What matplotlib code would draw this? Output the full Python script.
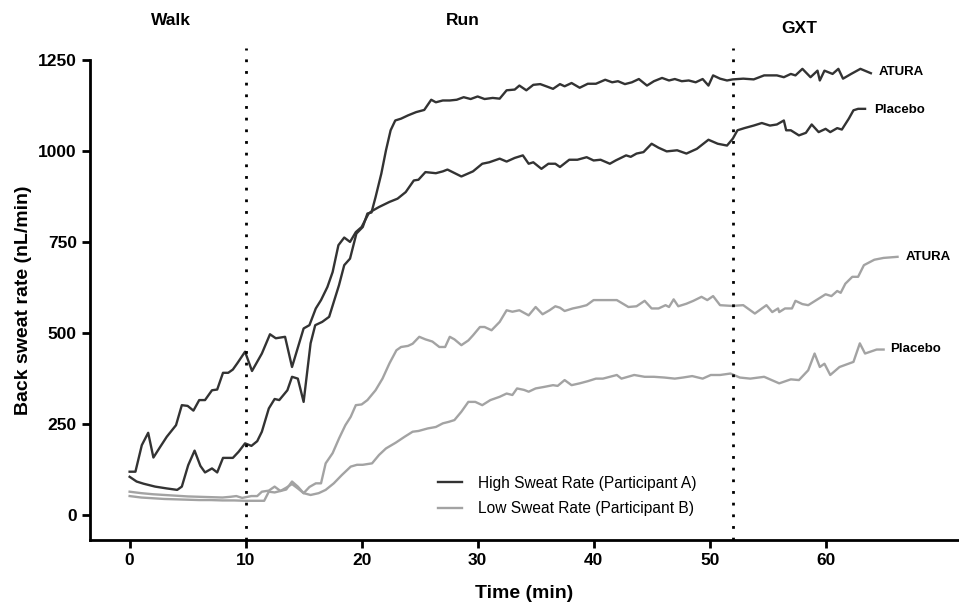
import numpy as np
import matplotlib
matplotlib.use("Agg")
import matplotlib.pyplot as plt

plt.rcParams['font.family'] = ['Liberation Sans', 'DejaVu Sans']

# High sweat rate (participant A) - placebo
hp_t = [0, 0.5, 1.05, 1.6, 2.05, 2.65, 3.2, 4.0, 4.5, 5.0, 5.5, 6.0, 6.5, 7.1, 7.55, 8.05, 8.5, 8.9,
        9.3, 9.95, 10.55, 11.4, 12.1, 12.6, 13.4, 14.0, 15.0, 15.5, 16.05, 16.5, 17.05, 17.5, 18.0,
        18.5, 19.0, 19.5, 20.0, 20.6, 21.0, 21.5, 22.4, 23.1, 23.8, 24.5, 24.9, 25.5, 26.4, 27.0,
        27.4, 28.6, 29.6, 30.4, 31.0, 31.9, 32.5, 33.2, 33.9, 34.4, 34.8, 35.5, 36.1, 36.7, 37.1,
        37.9, 38.6, 39.4, 40.0, 40.6, 41.4, 41.9, 42.8, 43.2, 43.7, 44.3, 45.0, 45.6, 46.3, 47.2,
        48.0, 48.9, 49.9, 50.7, 51.5, 52.0, 52.4, 53.0, 53.8, 54.5, 55.2, 55.8, 56.4, 56.6, 57.0,
        57.7, 58.3, 58.8, 59.4, 60.0, 60.4, 61.0, 61.4, 62.0, 62.4, 62.8, 63.4]
hp_v = [119, 119, 192, 226, 158, 188, 215, 247, 302, 300, 287, 316, 316, 343, 345, 391, 391, 400,
        418, 449, 396, 444, 497, 486, 490, 407, 513, 522, 568, 591, 627, 668, 742,
        763, 751, 778, 792, 829, 838, 847, 861, 870, 888, 920, 922, 943, 940, 945,
        950, 931, 945, 966, 970, 980, 972, 982, 989, 966, 970, 952, 966, 966, 957,
        977, 977, 984, 975, 977, 966, 975, 989, 985, 994, 998, 1021, 1010, 1000, 1003,
        994, 1007, 1032, 1021, 1016, 1035, 1058, 1064, 1071, 1078, 1071, 1074, 1085, 1058, 1058,
        1044, 1051, 1074, 1053, 1062, 1053, 1064, 1060, 1090, 1113, 1117, 1117]

# High sweat rate (participant A) - ATURA
ha_t = [0, 0.6, 1.2, 2.2, 3.2, 4.1, 4.5, 5.05, 5.6, 6.1, 6.5, 7.1, 7.55, 8.05, 8.9, 9.4, 9.95,
        10.5, 11.0, 11.4, 12.0, 12.5, 12.9, 13.6, 14.0, 14.5, 15.0, 15.6, 16.0, 16.6, 17.2, 17.6,
        18.05, 18.5, 19.0, 19.55, 20.1, 20.5, 20.85, 21.2, 21.7, 22.1, 22.5, 22.9, 23.4, 24.0,
        24.7, 25.4, 26.0, 26.4, 27.0, 27.6, 28.2, 28.8, 29.4, 30.0, 30.6, 31.3, 31.9, 32.5, 33.2,
        33.6, 34.2, 34.8, 35.4, 36.0, 36.5, 37.1, 37.5, 38.1, 38.8, 39.5, 40.2, 41.0, 41.6, 42.1,
        42.7, 43.3, 43.9, 44.6, 45.2, 45.9, 46.5, 47.0, 47.6, 48.2, 48.8, 49.4, 49.9, 50.3, 50.9,
        51.5, 52.0, 52.9, 53.8, 54.7, 55.8, 56.4, 57.0, 57.4, 58.0, 58.7, 59.3, 59.5, 59.9, 60.6,
        61.1, 61.5, 62.2, 63.0, 63.9]
ha_v = [105, 92, 86, 78, 73, 69, 78, 137, 177, 135, 117, 128, 117, 157, 157, 174, 197,
        190, 203, 229, 293, 319, 316, 343, 380, 375, 311, 472, 522, 531, 545, 586,
        632, 687, 705, 774, 792, 829, 832, 874, 939, 1003, 1058, 1085, 1090, 1099,
        1108, 1114, 1142, 1135, 1140, 1140, 1142, 1149, 1144, 1151, 1144, 1147, 1145, 1168, 1170,
        1181, 1168, 1183, 1185, 1178, 1172, 1185, 1179, 1188, 1175, 1186, 1186, 1197, 1190, 1193,
        1185, 1190, 1199, 1181, 1193, 1202, 1195, 1199, 1193, 1195, 1190, 1199, 1181, 1209, 1200,
        1195, 1198, 1200, 1198, 1209, 1209, 1204, 1213, 1209, 1227, 1204, 1222, 1195, 1222, 1213,
        1227, 1200, 1213, 1227, 1215]

# Low sweat rate (participant B) - ATURA
la_t = [0, 1, 2, 3, 4, 5, 6, 7, 8, 8.7, 9.2, 9.7, 10.5, 11.0, 11.4, 12.0, 12.5, 13.0, 13.5, 14.0,
        14.5, 15.0, 15.5, 16.05, 16.5, 16.9, 17.5, 18.06, 18.6, 19.06, 19.5, 20.0, 20.5, 21.2,
        21.8, 22.4, 23.0, 23.4, 24.0, 24.4, 24.97, 25.5, 26.1, 26.7, 27.2, 27.6, 28.0, 28.6, 29.2,
        29.6, 30.2, 30.6, 31.2, 31.9, 32.5, 33.0, 33.6, 34.4, 35.0, 35.6, 36.2, 36.7, 37.1, 37.5,
        38.2, 38.8, 39.4, 40.0, 42.0, 43.0, 43.7, 44.4, 45.0, 45.6, 46.2, 46.5, 46.9, 47.3, 48.0,
        48.6, 49.3, 49.8, 50.3, 50.9, 51.9, 52.9, 53.9, 54.9, 55.4, 55.9, 56.0, 56.5, 57.1, 57.4,
        58.0, 58.5, 59.2, 60.0, 60.5, 61.0, 61.3, 61.7, 62.3, 62.8, 63.3, 64.2, 65.0, 66.2]
la_v = [64, 60, 57, 55, 53, 51, 50, 49, 48, 50, 52, 47, 52, 52, 64, 67, 78, 66, 70, 92,
        78, 60, 77, 87, 87, 142, 170, 211, 247, 270, 302, 304, 316, 343,
        375, 417, 453, 462, 465, 471, 490, 483, 477, 462, 462, 490, 483, 467, 480,
        494, 517, 517, 508, 531, 563, 559, 563, 549, 572, 552, 563, 574, 570, 561,
        568, 572, 577, 591, 591, 572, 574, 589, 568, 568, 577, 572, 593, 574, 581,
        589, 600, 591, 602, 577, 575, 577, 554, 577, 558, 568, 558, 568, 568, 589,
        580, 577, 591, 607, 602, 616, 611, 636, 655, 655, 687, 702, 707, 710]

# Low sweat rate (participant B) - placebo
lp_t = [0, 1, 2, 3, 4, 5, 6, 7, 8, 9, 10, 11.0, 11.6, 12.0, 12.5, 13.0, 13.5, 14.0, 14.5, 15.0,
        15.6, 16.3, 16.9, 17.6, 18.3, 19.06, 19.6, 20.1, 20.9, 21.5, 22.1, 22.95, 23.7, 24.4, 24.9,
        25.7, 26.4, 27.0, 27.5, 28.0, 28.6, 29.2, 29.8, 30.4, 31.1, 31.9, 32.5, 33.0, 33.4, 34.0,
        34.4, 35.0, 35.7, 36.5, 36.9, 37.5, 38.1, 38.8, 39.5, 40.2, 40.8, 42.0, 42.4, 43.5, 44.4,
        45.2, 46.1, 47.0, 47.7, 48.5, 49.4, 50.1, 50.9, 51.8, 52.6, 53.5, 54.7, 56.0, 57.0, 57.7,
        58.5, 59.05, 59.5, 59.9, 60.4, 61.2, 61.8, 62.4, 62.95, 63.4, 64.4, 65.0]
lp_v = [52, 48, 46, 44, 43, 42, 41, 41, 40, 40, 39, 39, 39, 64, 62, 66, 75, 85, 73, 60,
        55, 60, 69, 87, 110, 133, 138, 138, 142, 165, 183, 199, 215, 229, 231,
        238, 242, 252, 256, 261, 284, 311, 311, 302, 316, 325, 334, 330, 348, 344,
        339, 348, 352, 357, 355, 371, 357, 362, 368, 375, 375, 385, 375, 385, 380,
        380, 378, 375, 378, 382, 375, 385, 385, 389, 378, 375, 380, 362, 373, 371,
        398, 444, 407, 416, 385, 407, 414, 421, 472, 444, 455, 455]

phase_names = ['Walk', 'Run', 'GXT']
phase_x = [3.6, 28.7, 57.7]
phase_y = [1361, 1361, 1339]
phase_breaks = [10, 52]

dark = '#333333'
light = '#a3a3a3'

fig = plt.figure(figsize=(9.59, 6.03), dpi=100)
ax = fig.add_axes([0.0938, 0.1045, 0.905, 0.7952])

ax.plot(hp_t, hp_v, color=dark, lw=1.7)
ax.plot(ha_t, ha_v, color=dark, lw=1.7, label='High Sweat Rate (Participant A)')
ax.plot(la_t, la_v, color=light, lw=1.7, label='Low Sweat Rate (Participant B)')
ax.plot(lp_t, lp_v, color=light, lw=1.7)

for b in phase_breaks:
    ax.plot([b, b], [-68.8, 1285], color='black', lw=2.0, ls=(0, (1, 3.2)),
            clip_on=False, zorder=3)

for name, x, y in zip(phase_names, phase_x, phase_y):
    ax.text(x, y, name, ha='center', va='center', fontsize=12.5, fontweight='bold',
            family=['Liberation Sans Narrow', 'Liberation Sans'])

# end labels
ax.text(64.6, 1218, 'ATURA', fontsize=9.5, fontweight='bold', va='center')
ax.text(64.2, 1114, 'Placebo', fontsize=9.5, fontweight='bold', va='center')
ax.text(66.9, 710, 'ATURA', fontsize=9.5, fontweight='bold', va='center')
ax.text(65.6, 457, 'Placebo', fontsize=9.5, fontweight='bold', va='center')

ax.set_xlim(-3.42, 71.4)
ax.set_ylim(-68.8, 1250)
ax.set_xticks([0, 10, 20, 30, 40, 50, 60])
ax.set_yticks([0, 250, 500, 750, 1000, 1250])
for s in ['top', 'right']:
    ax.spines[s].set_visible(False)
for s in ['left', 'bottom']:
    ax.spines[s].set_linewidth(2.0)
ax.tick_params(width=2.0, length=6, labelsize=12.5)
for lab in ax.get_xticklabels() + ax.get_yticklabels():
    lab.set_fontweight('bold')

ax.set_xlabel('Time (min)', fontsize=14, fontweight='bold', labelpad=12)
ax.set_ylabel('Back sweat rate (nL/min)', fontsize=14, fontweight='bold', labelpad=4)

ax.legend(loc='lower left', bbox_to_anchor=(0.385, 0.02), frameon=False, fontsize=11.2,
          handlelength=1.55, handletextpad=1.0, labelspacing=0.7)

fig.savefig('out.png', dpi=100)
